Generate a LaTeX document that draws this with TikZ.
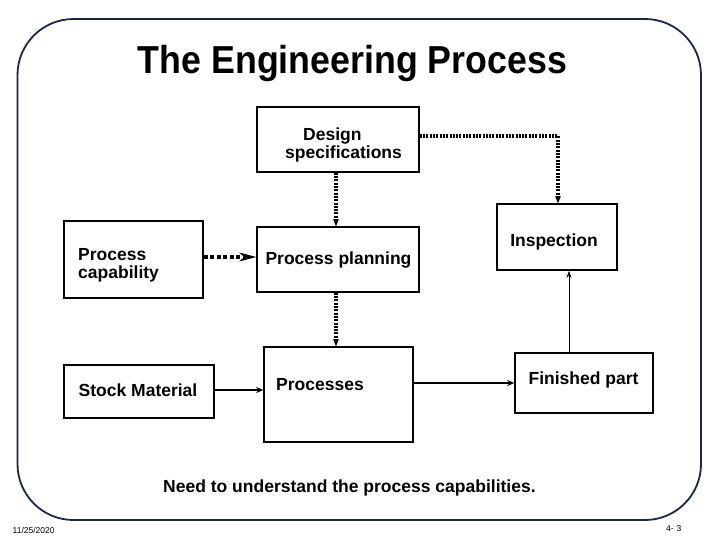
\documentclass[tikz,border=0pt]{standalone}
\usepackage{fontspec}
\setmainfont{Liberation Sans}
\usetikzlibrary{arrows.meta,calc}
\definecolor{frame}{HTML}{1C2848}
\tikzset{
  box/.style={draw=black,line width=1.6pt,fill=white,inner sep=0pt},
  txt/.style={font=\bfseries\fontsize{17.5}{18}\selectfont,inner sep=0pt,align=left},
  dotline/.style={line width=3.2pt,dash pattern=on 2pt off 1.3pt,-{Stealth[length=7pt,width=6pt,line width=0pt]}},
  dashline/.style={line width=4pt,dash pattern=on 4pt off 2.5pt,-{Stealth[length=17pt,width=9pt,inset=5pt,line width=0pt]}},
  solidline/.style={line width=1.6pt,-{Stealth[length=7pt,width=6pt]}},
  thinline/.style={line width=0.9pt,-{Stealth[length=7pt,width=5pt]}}
}
\begin{document}
\begin{tikzpicture}[x=1pt,y=-1pt]
\useasboundingbox[fill=white] (0,0) rectangle (719,539);
\draw[frame,line width=1.8pt,rounded corners=56pt] (17.5,19) rectangle (701,520);
\node[font=\bfseries\fontsize{39}{40}\selectfont,inner sep=0pt,anchor=base,xscale=0.917] (title) at (352.5,73) {The Engineering Process};

% boxes
\node[box,minimum width=162pt,minimum height=65pt] (ds) at (338,139.5) {};
\node[box,minimum width=139pt,minimum height=77pt] (pc) at (133.5,259.5) {};
\node[box,minimum width=162pt,minimum height=65pt] (pp) at (338,259.5) {};
\node[box,minimum width=120pt,minimum height=66pt] (in) at (557,237) {};
\node[box,minimum width=150pt,minimum height=53pt] (sm) at (139,391.5) {};
\node[box,minimum width=149pt,minimum height=95pt] (pr) at (338.5,394.5) {};
\node[box,minimum width=138pt,minimum height=60pt] (fp) at (584,383) {};

% texts
\node[txt,anchor=base west] (dst) at (285,158) {\hspace*{18pt}Design\\specifications};
\node[txt,anchor=base west] (pct) at (78,278) {Process\\capability};
\node[txt,anchor=base] (ppt) at (338.5,264) {Process planning};
\node[txt,anchor=base] (int) at (554,246) {Inspection};
\node[txt,anchor=base west] (smt) at (78.5,396) {Stock Material};
\node[txt,anchor=base west] (prt) at (276,390) {Processes};
\node[txt,anchor=base] (fpt) at (583.5,384) {Finished part};

% connectors
\draw[dotline] (ds.south -| 336,0) -- (pp.north -| 336,0);
\draw[dotline] (pp.south -| 336,0) -- (pr.north -| 336,0);
\draw[dotline] (ds.east |- 0,136) -| (in.north -| 558,0);
\draw[dashline] (pc.east |- 0,257) -- (pp.west |- 0,257);
\draw[solidline] (sm.east |- 0,390) -- (pr.west |- 0,390);
\draw[solidline] (pr.east |- 0,383) -- (fp.west |- 0,383);
\draw[thinline] (fp.north -| 569,0) -- (in.south -| 569,0);

% caption and footer
\node[txt,anchor=base west] (cap) at (163,492) {Need to understand the process capabilities.};
\node[font=\fontsize{8.5}{9}\selectfont,inner sep=0pt,anchor=base west] (date) at (12.5,533) {11/25/2020};
\node[font=\fontsize{8.5}{9}\selectfont,inner sep=0pt,anchor=base west] (pg) at (666,531) {4-\,\,3};
\end{tikzpicture}
\end{document}
